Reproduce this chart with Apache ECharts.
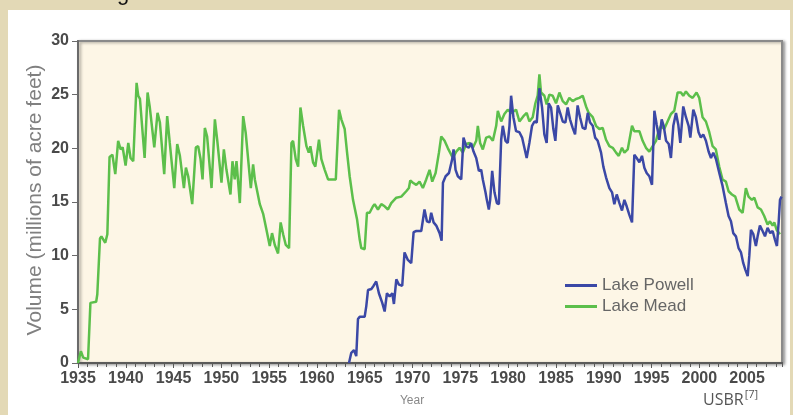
<!DOCTYPE html>
<html><head><meta charset="utf-8">
<script src="https://cdn.jsdelivr.net/npm/echarts@6/dist/echarts.min.js"></script>
<style>html,body{margin:0;padding:0;background:#e3d9b6;}#c{width:793px;height:415px;}</style>
</head><body><div id="c"></div>
<script>
const yearTicks = [1935,1940,1945,1950,1955,1960,1965,1970,1975,1980,1985,1990,1995,2000,2005];
const volumeTicks = [0,5,10,15,20,25,30];
const seriesNames = ['Lake Powell','Lake Mead'];

const lakeMead = [
[1935,0],[1935.3,1.1],[1935.55,0.5],[1936.05,0.35],[1936.3,5.6],[1936.9,5.7],[1937.02,6.4],[1937.3,11.6],[1937.45,11.8],[1937.85,11.2],[1938.07,12.0],[1938.3,19.2],[1938.6,19.4],[1938.9,17.6],[1939.2,20.7],[1939.46,19.9],[1939.67,20.1],[1939.98,18.4],[1940.26,20.5],[1940.5,19.1],[1940.78,18.8],[1941.13,26.1],[1941.3,24.9],[1941.48,24.6],[1941.97,19.1],[1942.28,25.2],[1942.5,23.9],[1942.98,20.1],[1943.32,23.3],[1943.57,22.4],[1944.02,17.6],[1944.33,23.0],[1944.6,20.5],[1945.07,16.3],[1945.38,20.4],[1945.66,19.3],[1946.08,16.3],[1946.29,18.2],[1946.53,17.4],[1946.95,14.8],[1947.33,20.1],[1947.57,20.2],[1947.82,19.0],[1948.03,17.1],[1948.27,21.9],[1948.51,21.1],[1948.97,16.3],[1949.32,22.7],[1949.56,20.8],[1950.01,16.8],[1950.26,19.9],[1950.53,18.0],[1950.95,15.7],[1951.16,18.8],[1951.4,17.1],[1951.58,18.8],[1951.93,14.9],[1952.28,23.0],[1952.55,21.4],[1953.08,16.3],[1953.32,18.5],[1953.5,17.1],[1954.02,14.8],[1954.37,13.9],[1954.72,12.4],[1955.06,10.9],[1955.3,12.1],[1955.59,11.0],[1955.93,10.2],[1956.2,13.1],[1956.46,12.0],[1956.74,11.0],[1957.08,10.7],[1957.33,20.5],[1957.5,20.7],[1957.78,19.0],[1958.03,18.3],[1958.27,23.8],[1958.55,22.1],[1958.9,20.2],[1959.14,19.6],[1959.31,20.2],[1959.59,18.7],[1959.83,18.3],[1960.21,20.8],[1960.46,19.0],[1960.81,18.0],[1961.16,17.1],[1961.51,17.1],[1961.97,17.1],[1962.31,23.6],[1962.55,22.7],[1962.9,21.8],[1963.15,19.6],[1963.42,17.4],[1963.77,15.2],[1964.19,13.4],[1964.47,11.5],[1964.64,10.7],[1964.99,10.6],[1965.23,14.0],[1965.51,14.0],[1965.86,14.6],[1966.03,14.8],[1966.38,14.3],[1966.73,14.8],[1967.08,14.6],[1967.43,14.3],[1967.77,14.9],[1968.3,15.4],[1968.82,15.5],[1969.34,16.0],[1969.62,16.3],[1969.76,17.0],[1970.04,16.8],[1970.39,16.6],[1970.73,16.9],[1971.08,16.3],[1971.43,17.1],[1971.78,18.0],[1972.06,16.9],[1972.41,17.7],[1972.76,19.6],[1973.0,21.1],[1973.35,20.7],[1973.7,20.0],
[1974.22,19.1],[1974.57,19.7],[1974.92,20.05],[1975.26,19.6],[1975.61,20.4],[1975.96,20.5],[1976.31,20.05],[1976.66,20.7],[1976.83,22.1],[1977.07,20.5],[1977.35,19.9],[1977.7,21.0],[1978.05,21.1],[1978.4,20.7],[1978.75,22.1],[1978.92,23.5],[1979.27,22.5],[1979.61,23.2],[1979.96,23.6],[1980.31,23.3],[1980.83,23.6],[1981.18,22.5],[1981.6,23.0],[1981.94,23.3],[1982.22,22.5],[1982.57,22.9],[1982.85,24.2],[1983.09,24.9],[1983.27,26.9],[1983.44,25.2],[1983.79,24.9],[1984.03,24.1],[1984.31,25.0],[1984.66,24.9],[1985.01,24.2],[1985.36,25.2],[1985.71,24.4],[1986.06,24.1],[1986.4,24.7],[1986.75,24.4],[1987.1,24.6],[1987.45,24.7],[1987.8,24.9],[1988.15,23.9],[1988.43,23.3],[1988.85,22.9],[1989.19,22.1],[1989.54,21.8],[1989.89,21.9],[1990.24,20.8],
[1990.59,20.2],[1990.94,20.05],[1991.29,19.6],[1991.57,19.3],[1991.91,20.05],[1992.16,19.6],[1992.51,19.9],[1992.96,22.1],[1993.2,21.6],[1993.73,21.6],[1994.07,20.7],[1994.42,20.05],[1994.77,19.7],[1995.12,20.2],[1995.47,20.7],[1995.74,21.6],[1995.99,22.1],[1996.33,21.8],[1996.68,22.5],[1997.03,23.2],[1997.38,23.5],[1997.73,25.2],[1998.08,25.2],[1998.32,24.9],[1998.6,25.3],[1998.95,24.9],[1999.3,24.7],[1999.71,25.2],[1999.99,24.7],[2000.34,22.9],[2000.69,22.5],[2001.04,21.5],[2001.39,20.2],[2001.73,19.9],[2002.08,18.3],[2002.43,17.1],[2002.78,16.9],[2003.06,16.0],[2003.41,15.7],[2003.76,15.5],[2004.18,14.3],[2004.53,14.0],[2004.87,16.3],[2005.15,15.5],[2005.5,15.2],[2005.75,15.4],[2006.1,14.5],[2006.45,14.3],[2006.79,13.7],[2007.14,12.9],[2007.39,13.2],[2007.67,12.8],[2007.84,13.1],[2008.09,12.4],[2008.44,12.0]
];

const lakePowell = [
[1963.35,0],[1963.59,0.95],[1963.87,1.2],[1964.11,0.64],[1964.29,4.1],[1964.47,4.3],[1964.99,4.3],[1965.16,5.3],[1965.34,6.8],[1965.69,6.9],[1965.93,7.2],[1966.2,7.6],[1966.48,6.5],[1966.83,5.6],[1967.08,4.8],[1967.32,6.5],[1967.6,6.2],[1967.88,6.5],[1968.05,5.5],[1968.3,7.8],[1968.57,7.3],[1968.92,7.2],[1969.16,10.3],[1969.51,9.6],[1969.86,9.3],[1970.11,12.2],[1970.39,12.3],[1970.91,12.3],[1971.25,14.3],[1971.5,13.2],[1971.78,13.1],[1971.95,14.0],[1972.2,13.1],[1972.48,12.8],[1972.83,12.1],[1973.04,11.4],[1973.18,16.8],[1973.46,17.4],[1973.81,17.7],
[1974.15,19.0],[1974.29,19.9],[1974.5,18.0],[1974.74,17.4],[1975.09,17.1],[1975.33,21.0],[1975.61,20.2],[1975.89,20.05],[1976.13,20.5],[1976.38,19.7],[1976.66,19.1],[1976.94,17.9],[1977.18,18.0],[1977.35,17.1],[1977.63,15.9],[1977.77,15.2],[1977.98,14.3],[1978.12,15.2],[1978.33,17.9],[1978.57,15.9],[1978.82,14.9],[1979.03,14.8],[1979.27,20.8],[1979.44,22.1],[1979.72,20.7],[1979.96,20.5],[1980.14,22.1],[1980.31,24.9],[1980.55,22.9],[1980.83,21.6],[1981.18,21.5],[1981.46,21.0],[1981.7,20.05],[1981.94,19.1],[1982.22,20.5],[1982.5,22.1],[1982.75,22.5],[1982.99,22.4],[1983.27,25.6],[1983.55,23.8],[1983.79,21.3],[1984.03,20.5],[1984.24,24.2],[1984.49,23.8],[1984.73,21.8],[1984.94,20.7],[1985.19,24.0],[1985.47,23.2],[1985.71,22.5],[1985.99,22.4],[1986.23,23.8],[1986.47,22.7],[1986.75,21.9],[1987.0,21.3],[1987.27,24.0],[1987.52,22.9],[1987.8,21.9],[1988.08,21.8],[1988.33,23.3],[1988.57,22.4],[1988.85,22.1],[1989.1,21.0],[1989.37,20.7],[1989.72,19.6],[1989.96,18.3],[1990.24,17.3],
[1990.59,16.3],[1990.87,15.9],[1991.11,14.8],[1991.36,15.7],[1991.64,14.9],[1991.91,14.2],[1992.16,15.2],[1992.4,14.6],[1992.68,13.8],[1992.96,13.1],[1993.2,19.4],[1993.45,19.1],[1993.73,18.7],[1994.0,19.3],[1994.25,18.2],[1994.49,17.7],[1994.77,17.4],[1995.05,16.6],[1995.3,23.5],[1995.54,22.2],[1995.82,20.8],[1996.06,22.7],[1996.27,22.1],[1996.52,20.7],[1996.8,20.4],[1997.03,19.1],[1997.28,22.1],[1997.56,23.3],[1997.8,22.2],[1998.01,20.5],[1998.32,23.9],[1998.6,22.9],[1998.88,22.1],[1999.06,21.0],[1999.37,23.6],[1999.64,22.9],[1999.92,21.5],[2000.16,21.0],[2000.41,21.3],[2000.69,20.7],[2000.97,19.7],[2001.22,19.1],[2001.46,19.6],[2001.74,19.0],[2002.09,17.7],[2002.43,16.5],[2002.78,14.9],[2003.06,13.7],[2003.31,13.2],[2003.55,12.1],[2003.83,11.8],[2004.11,10.7],[2004.36,10.3],[2004.6,9.3],[2004.81,8.7],[2005.06,8.1],[2005.23,10.0],[2005.4,12.4],[2005.65,12.0],[2005.92,10.9],[2006.1,11.8],[2006.34,12.8],[2006.62,12.3],[2006.87,11.8],[2007.14,12.6],[2007.42,12.1],[2007.67,12.3],[2007.91,11.5],[2008.12,10.9],[2008.3,13.1],[2008.44,15.2],[2008.6,15.5]
];

const chart = echarts.init(document.getElementById('c'), null, {renderer:'canvas'});
const xMin = yearTicks[0], xMax = 2008.65;
const powellColor = '#3b48a6', meadColor = '#5cbf4b';
const labelFont = {color:'#4a4a4a', fontSize:16, fontWeight:'bold', fontFamily:'Liberation Sans, Arial, sans-serif'};
chart.setOption({
  backgroundColor:'#e3d9b6',
  animation:false,
  graphic:[
    {type:'rect', z:-10, shape:{x:8,y:10,width:782,height:405}, style:{fill:'#ffffff'}},
    {type:'text', left:117, top:-17, style:{text:'g', fontSize:22, fill:'#111', fontFamily:'Liberation Sans, Arial'}},
    {type:'text', x:35, y:200, rotation:Math.PI/2, style:{text:'Volume (millions of acre feet)', fontSize:21, fill:'#808080', align:'center', verticalAlign:'middle', fontFamily:'Liberation Sans, Arial, sans-serif'}},
    {type:'text', x:412, y:401, style:{text:'Year', fontSize:12, fill:'#888', align:'center', verticalAlign:'middle', fontFamily:'Liberation Sans, Arial, sans-serif'}},
    {type:'text', x:703, y:399, style:{text:'{a|USBR}{b|[7]}', fill:'#555', fontFamily:'Open Sans, sans-serif', verticalAlign:'middle',
      rich:{a:{fontSize:16, fill:'#555', fontFamily:'Open Sans, sans-serif', verticalAlign:'bottom'}, b:{fontSize:11, fill:'#555', fontFamily:'Open Sans, sans-serif', verticalAlign:'top', padding:[0,0,8,1]}}}}
  ],
  grid:{left:78, right:11, top:41, bottom:52, show:true, backgroundColor:'#fdf6e6', borderColor:'#8a8a8a', borderWidth:2,
        shadowColor:'rgba(0,0,0,0.35)', shadowBlur:3, shadowOffsetX:2, shadowOffsetY:1, outerBoundsMode:'none'},
  legend:{left:560, top:272, orient:'vertical', itemWidth:32, itemHeight:3, itemGap:4,
          data:[{name:seriesNames[0], icon:'rect', itemStyle:{color:powellColor}}, {name:seriesNames[1], icon:'rect', itemStyle:{color:meadColor}}],
          textStyle:{fontSize:17, color:'#666', fontFamily:'Liberation Sans, Arial, sans-serif'}},
  xAxis:[
    {type:'value', min:xMin, max:xMax, interval:5,
     axisLine:{show:true, lineStyle:{color:'#5a5a5a', width:2}},
     axisTick:{show:true, length:5, lineStyle:{color:'#5a5a5a', width:1}},
     axisLabel:Object.assign({margin:8, showMaxLabel:false, formatter:v => yearTicks.includes(v) ? String(v) : ''}, labelFont),
     splitLine:{show:false}},
    {type:'value', min:xMin, max:xMax, interval:1, position:'bottom', offset:0,
     axisLine:{show:true, lineStyle:{color:'#5a5a5a', width:2}}, axisTick:{show:true, length:4, lineStyle:{color:'#5a5a5a', width:1}},
     axisLabel:{show:false}, splitLine:{show:false}}
  ],
  yAxis:{type:'value', min:volumeTicks[0], max:volumeTicks[volumeTicks.length-1], interval:5,
     axisLine:{show:true, lineStyle:{color:'#6a6a6a', width:2}},
     axisTick:{show:true, length:6, lineStyle:{color:'#6a6a6a', width:1}},
     axisLabel:Object.assign({margin:9}, labelFont),
     splitLine:{show:false}},
  series:[
    {name:seriesNames[1], type:'line', data:lakeMead, symbol:'none', xAxisIndex:0, color:meadColor, lineStyle:{width:2.5, color:meadColor}, z:2},
    {name:seriesNames[0], type:'line', data:lakePowell, symbol:'none', xAxisIndex:0, color:powellColor, lineStyle:{width:2.5, color:powellColor}, z:3}
  ]
});
</script></body></html>
